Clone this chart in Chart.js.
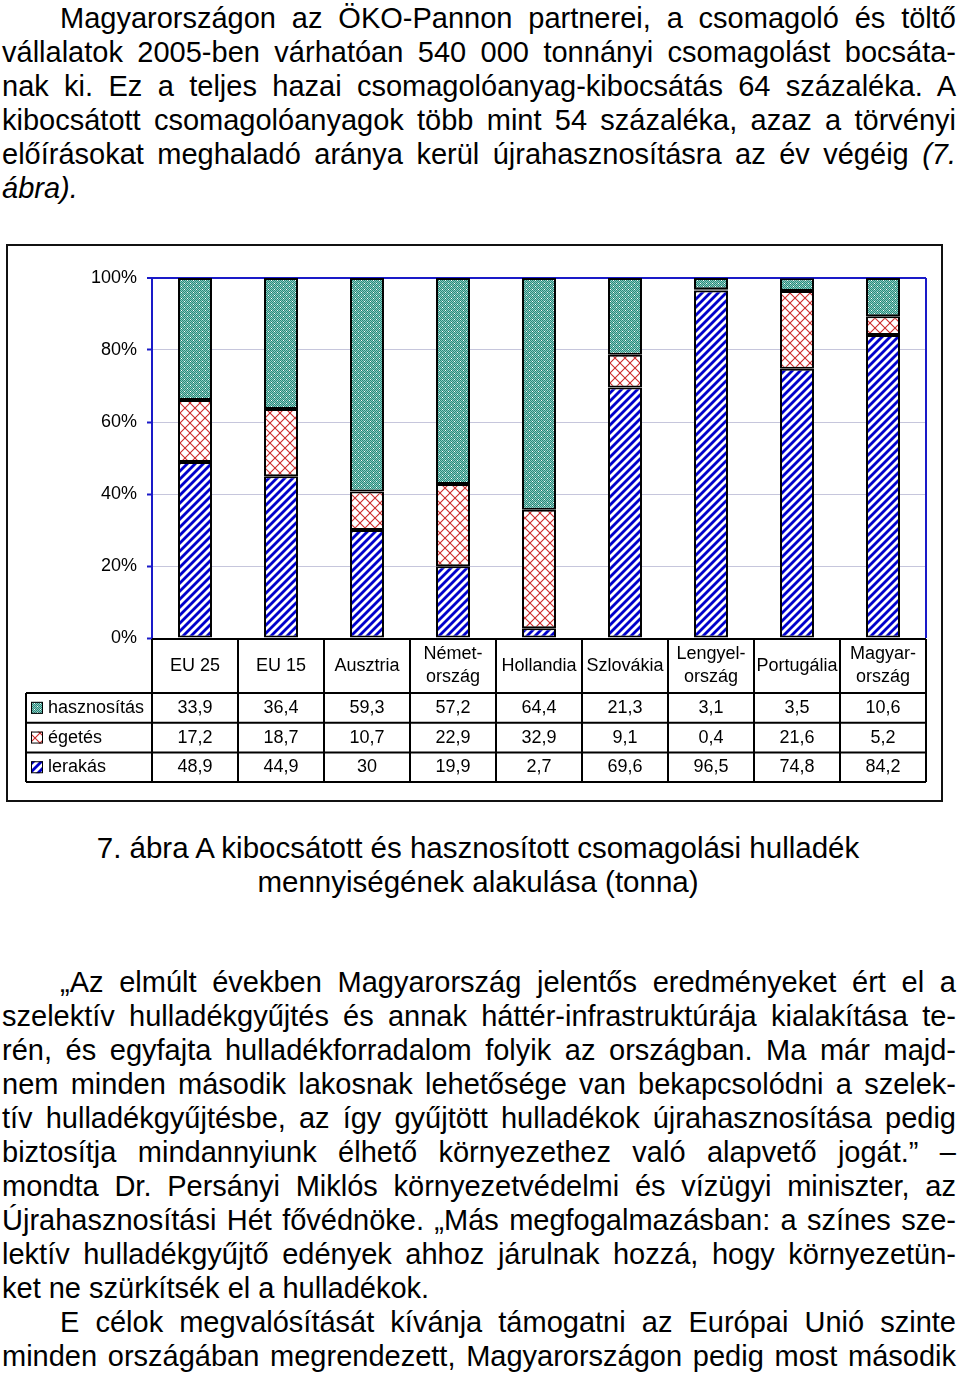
<!DOCTYPE html>
<html><head><meta charset="utf-8">
<script src="https://cdn.jsdelivr.net/npm/chart.js@4/dist/chart.umd.min.js"></script>
<style>
html,body{margin:0;padding:0;background:#fff;}
body{width:960px;height:1373px;position:relative;overflow:hidden;font-family:"Liberation Sans",Arial,sans-serif;color:#000;}
.p{position:absolute;left:2px;width:954px;font-size:29px;line-height:34px;}
.l{text-align:justify;text-align-last:justify;height:34px;overflow:visible;white-space:normal;}
.nl{text-align-last:left;}
.ind{padding-left:58px;}
.cap{position:absolute;left:0;width:956px;text-align:center;font-size:29.5px;line-height:34px;}
#wrap{position:absolute;left:0;top:243px;width:960px;height:562px;}
</style>
</head><body>
<div class="p" style="top:1px">
<div class="l ind">Magyarországon az ÖKO-Pannon partnerei, a csomagoló és töltő</div>
<div class="l">vállalatok 2005-ben várhatóan 540 000 tonnányi csomagolást bocsáta-</div>
<div class="l">nak ki. Ez a teljes hazai csomagolóanyag-kibocsátás 64 százaléka. A</div>
<div class="l">kibocsátott csomagolóanyagok több mint 54 százaléka, azaz a törvényi</div>
<div class="l">előírásokat meghaladó aránya kerül újrahasznosításra az év végéig <i>(7.</i></div>
<div class="l nl"><i>ábra).</i></div>
</div>
<div id="wrap"><canvas id="c" width="960" height="562"></canvas></div>
<div class="cap" style="top:831px">7. ábra A kibocsátott és hasznosított csomagolási hulladék<br>mennyiségének alakulása (tonna)</div>
<div class="p" style="top:965px">
<div class="l ind">„Az elmúlt években Magyarország jelentős eredményeket ért el a</div>
<div class="l">szelektív hulladékgyűjtés és annak háttér-infrastruktúrája kialakítása te-</div>
<div class="l">rén, és egyfajta hulladékforradalom folyik az országban. Ma már majd-</div>
<div class="l">nem minden második lakosnak lehetősége van bekapcsolódni a szelek-</div>
<div class="l">tív hulladékgyűjtésbe, az így gyűjtött hulladékok újrahasznosítása pedig</div>
<div class="l">biztosítja mindannyiunk élhető környezethez való alapvető jogát.” –</div>
<div class="l">mondta Dr. Persányi Miklós környezetvédelmi és vízügyi miniszter, az</div>
<div class="l">Újrahasznosítási Hét fővédnöke. „Más megfogalmazásban: a színes sze-</div>
<div class="l">lektív hulladékgyűjtő edények ahhoz járulnak hozzá, hogy környezetün-</div>
<div class="l nl">ket ne szürkítsék el a hulladékok.</div>
<div class="l ind">E célok megvalósítását kívánja támogatni az Európai Unió szinte</div>
<div class="l">minden országában megrendezett, Magyarországon pedig most második</div>
</div>
<script>
const categories = [['EU 25'],['EU 15'],['Ausztria'],['Német-','ország'],['Hollandia'],['Szlovákia'],['Lengyel-','ország'],['Portugália'],['Magyar-','ország']];
const seriesNames = ['hasznosítás','égetés','lerakás'];
const hasznositas = [33.9,36.4,59.3,57.2,64.4,21.3,3.1,3.5,10.6];
const egetes = [17.2,18.7,10.7,22.9,32.9,9.1,0.4,21.6,5.2];
const lerakas = [48.9,44.9,30,19.9,2.7,69.6,96.5,74.8,84.2];
const yTicks = [0,20,40,60,80,100];

const FONT = '"Liberation Sans", Arial, sans-serif';
const axisBlue = '#1a1ac8';
const gridCol = '#c6c6dc';

function makePattern(kind){
  const c = document.createElement('canvas');
  const g = c.getContext('2d');
  if(kind==='teal'){
    c.width=c.height=6;
    for(let y=0;y<6;y++)for(let x=0;x<6;x++){g.fillStyle=((x+y)%2)?'#2c8678':'#86ccc2';g.fillRect(x,y,1,1);}
    g.fillStyle='#ffffff';g.fillRect(1,1,1,1);g.fillRect(4,4,1,1);
  } else if(kind==='stripe'){
    c.width=c.height=8;
    g.fillStyle='#fff';g.fillRect(0,0,8,8);
    g.strokeStyle='#0000cc';g.lineWidth=2.8;
    for(const k of [-8,0,8]){g.beginPath();g.moveTo(k-1,9);g.lineTo(k+9,-1);g.stroke();}
  } else {
    c.width=c.height=10;
    g.fillStyle='#fff';g.fillRect(0,0,10,10);
    g.strokeStyle='#cc2828';g.lineWidth=1.1;
    for(const k of [-10,0,10]){
      g.beginPath();g.moveTo(k-1,11);g.lineTo(k+11,-1);g.stroke();
      g.beginPath();g.moveTo(k-1,-1);g.lineTo(k+11,11);g.stroke();
    }
  }
  return g.createPattern(c,'repeat');
}
const patTeal = makePattern('teal');
const patRed = makePattern('cross');
const patBlue = makePattern('stripe');
const rowPatterns = [patTeal, patRed, patBlue];
const rowValues = [hasznositas, egetes, lerakas];

function fmt(v){return String(v).replace('.',',');}

const tablePlugin = {
  id:'tbl',
  afterDraw(chart){
    const ctx = chart.ctx, xs = chart.scales.x, ca = chart.chartArea;
    const n = categories.length;
    const cw = (ca.right-ca.left)/n;
    ctx.save();
    ctx.strokeStyle = axisBlue; ctx.lineWidth = 2;
    ctx.beginPath(); ctx.moveTo(ca.right, ca.top); ctx.lineTo(ca.right, ca.bottom); ctx.stroke();
    ctx.strokeStyle = '#111'; ctx.lineWidth = 2;
    ctx.strokeRect(7, 2, 935, 556);
    const top = ca.bottom + 1;
    const hdrH = 54, rowH = 29.7, legL = 26;
    const bottom = top + hdrH + 3*rowH;
    ctx.strokeStyle = '#000'; ctx.lineWidth = 2;
    const line=(x1,y1,x2,y2)=>{ctx.beginPath();ctx.moveTo(x1,y1);ctx.lineTo(x2,y2);ctx.stroke();};
    line(ca.left, top, ca.right, top);
    for(let r=0;r<=3;r++){ const y = top+hdrH+r*rowH; line(legL, y, ca.right, y); }
    for(let i=0;i<n;i++){
      const cx = xs.getPixelForValue(i);
      line(cx-cw/2, top, cx-cw/2, bottom);
    }
    line(ca.right, top, ca.right, bottom);
    line(legL, top+hdrH, legL, bottom);
    ctx.fillStyle = '#000';
    ctx.font = '18px ' + FONT;
    ctx.textAlign = 'center'; ctx.textBaseline = 'middle';
    for(let i=0;i<n;i++){
      const cx = xs.getPixelForValue(i);
      const lab = categories[i];
      const hc = top + hdrH/2;
      if(lab.length===1){ ctx.fillText(lab[0], cx, hc); }
      else { ctx.fillText(lab[0], cx, hc-11.5); ctx.fillText(lab[1], cx, hc+11.5); }
      for(let r=0;r<3;r++){
        const yc = top+hdrH+r*rowH+rowH/2;
        ctx.fillText(fmt(rowValues[r][i]), cx, yc);
      }
    }
    ctx.textAlign='left';
    for(let r=0;r<3;r++){
      const yc = top+hdrH+r*rowH+rowH/2;
      ctx.fillStyle = rowPatterns[r];
      ctx.fillRect(31, yc-6, 12, 12);
      ctx.strokeStyle='#000'; ctx.lineWidth=1;
      ctx.strokeRect(31.5, yc-5.5, 11, 11);
      ctx.fillStyle='#000';
      ctx.fillText(seriesNames[r], 48, yc);
    }
    ctx.restore();
  }
};

new Chart(document.getElementById('c'), {
  type:'bar',
  data:{
    labels: categories,
    datasets:[
      {label:seriesNames[2], data:lerakas, backgroundColor:patBlue},
      {label:seriesNames[1], data:egetes, backgroundColor:patRed},
      {label:seriesNames[0], data:hasznositas, backgroundColor:patTeal}
    ]
  },
  options:{
    responsive:false, animation:false, devicePixelRatio:1,
    layout:{padding:{left:0,right:34,top:35,bottom:167}},
    datasets:{bar:{borderColor:'#000',borderWidth:2,borderSkipped:false,barPercentage:0.395,categoryPercentage:1}},
    plugins:{legend:{display:false},tooltip:{enabled:false}},
    scales:{
      x:{display:false,stacked:true},
      y:{
        stacked:true,min:0,max:100,
        afterFit(s){s.width=152;},
        afterBuildTicks(s){s.ticks = yTicks.map(v=>({value:v}));},
        ticks:{callback:v=>v+'%',color:'#000',font:{family:FONT,size:18},padding:10},
        grid:{
          color:c=>(c.tick && c.tick.value===100)?axisBlue:gridCol,
          lineWidth:c=>(c.tick && c.tick.value===100)?2:1,
          tickColor:axisBlue, tickLength:5, tickWidth:2, drawTicks:true
        },
        border:{display:true,color:axisBlue,width:2}
      }
    }
  },
  plugins:[tablePlugin]
});
</script>
</body></html>
